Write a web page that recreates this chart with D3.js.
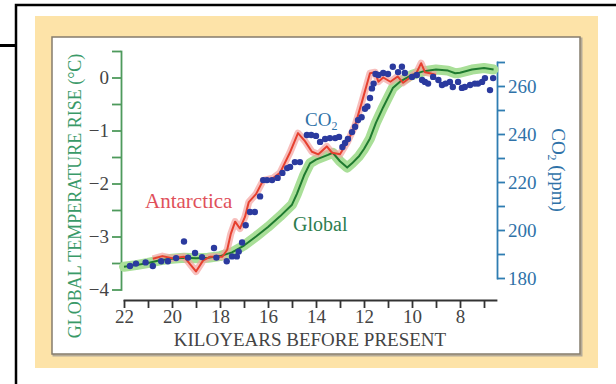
<!DOCTYPE html>
<html>
<head>
<meta charset="utf-8">
<script src="https://cdn.jsdelivr.net/npm/d3@7"></script>
<style>
  body { margin: 0; background: #fff; }
  svg { display: block; }
  text { font-family: "Liberation Serif", "DejaVu Serif", serif; }
</style>
</head>
<body>
<svg id="chart" width="616" height="384"></svg>
<script>
// global temperature reconstruction (kyr BP, deg C)
const globalKyr = [22.0, 21.5, 21.0, 20.5, 20.0, 19.5, 19.0, 18.5, 18.0, 17.5, 17.0, 16.5, 16.0, 15.5, 15.0, 14.8, 14.5, 14.25, 14.0, 13.5, 13.3, 13.0, 12.7, 12.5, 12.2, 12.0, 11.75, 11.5, 11.2, 10.8, 10.5, 10.0, 9.5, 9.0, 8.5, 8.2, 8.0, 7.5, 7.0, 6.6];
const globalTemp = [-3.57, -3.54, -3.50, -3.45, -3.42, -3.40, -3.41, -3.40, -3.37, -3.30, -3.17, -3.00, -2.82, -2.62, -2.40, -2.20, -1.85, -1.62, -1.55, -1.46, -1.42, -1.58, -1.70, -1.62, -1.48, -1.35, -1.15, -0.85, -0.56, -0.20, -0.08, 0.05, 0.12, 0.15, 0.13, 0.08, 0.09, 0.15, 0.18, 0.15];

// antarctic temperature (kyr BP, deg C)
const antKyr = [20.8, 20.4, 20.0, 19.5, 19.25, 19.0, 18.7, 18.4, 17.9, 17.7, 17.55, 17.37, 17.17, 16.96, 16.8, 16.5, 16.2, 15.8, 15.5, 15.1, 14.75, 14.46, 14.17, 13.9, 13.55, 13.33, 13.0, 12.67, 12.37, 12.08, 11.75, 11.54, 11.4, 11.2, 10.9, 10.6, 10.37, 10.08, 9.8, 9.62, 9.46, 9.25, 9.0];
const antTemp = [-3.42, -3.37, -3.41, -3.38, -3.52, -3.66, -3.45, -3.38, -3.38, -3.25, -2.95, -2.72, -2.85, -2.63, -2.35, -2.20, -1.94, -1.90, -1.80, -1.43, -1.05, -1.20, -1.40, -1.45, -1.30, -1.42, -1.45, -1.20, -0.90, -0.45, 0.08, 0.10, -0.08, 0.00, -0.08, 0.02, -0.10, 0.00, 0.10, 0.27, 0.10, 0.08, 0.05];

// CO2 samples (kyr BP, ppm)
const co2Kyr = [21.75, 21.5, 21.1, 20.8, 20.45, 20.17, 19.83, 19.5, 19.33, 19.04, 18.75, 18.25, 18.15, 17.72, 17.5, 17.3, 17.22, 17.08, 16.93, 16.75, 16.55, 16.33, 16.2, 16.04, 15.83, 15.6, 15.4, 15.2, 15.08, 14.88, 14.67, 14.38, 14.2, 14.0, 13.83, 13.62, 13.42, 13.2, 13.04, 12.9, 12.79, 12.67, 12.5, 12.37, 12.25, 12.1, 11.96, 11.86, 11.75, 11.67, 11.6, 11.52, 11.4, 11.2, 11.0, 10.8, 10.58, 10.42, 10.3, 10.0, 9.8, 9.58, 9.46, 9.33, 9.12, 8.9, 8.75, 8.6, 8.42, 8.3, 8.08, 7.92, 7.8, 7.58, 7.38, 7.25, 7.08, 6.96, 6.75, 6.62];
const co2Ppm = [185, 186, 186.5, 185, 187, 187, 188.3, 195.2, 188.5, 190.4, 188.7, 192.5, 188.5, 187, 189, 189, 191, 194.8, 202, 207.5, 207.5, 214, 220.8, 220.8, 220.8, 221.7, 223.8, 225.8, 226.3, 228.3, 228.3, 239.6, 239.6, 239.2, 236.7, 237.9, 238.3, 238.3, 238.8, 234.6, 236.3, 237.9, 240.8, 243, 245.8, 247, 250.5, 251.5, 255, 259, 261, 265, 264.6, 265.4, 265, 268, 265.8, 268, 265.4, 263.8, 264.6, 262.5, 261.7, 261, 263.8, 262.5, 260.4, 261, 261.7, 259.6, 261.7, 259.2, 259.6, 260.4, 261, 261, 261.7, 263.3, 258.3, 263.3];

const kyrTicks = [22, 21, 20, 19, 18, 17, 16, 15, 14, 13, 12, 11, 10, 9, 8, 7];
const kyrLabels = [22, 20, 18, 16, 14, 12, 10, 8];
const tempTicks = [0.5, 0, -0.5, -1, -1.5, -2, -2.5, -3, -3.5, -4];
const co2Ticks = [270, 260, 250, 240, 230, 220, 210, 200, 190, 180];

const svg = d3.select('#chart');

// frame
svg.append('rect').attr('x', 35).attr('y', 16).attr('width', 563).attr('height', 352).attr('fill', '#fde3a8');
svg.append('rect').attr('x', 53.5).attr('y', 38.5).attr('width', 528).attr('height', 317)
  .attr('fill', 'none').attr('stroke', '#b5ab98').attr('stroke-width', 2);
svg.append('rect').attr('x', 52).attr('y', 37).attr('width', 528).attr('height', 317)
  .attr('fill', '#fff').attr('stroke', '#857c6c').attr('stroke-width', 1.5);
svg.append('path').attr('d', 'M16,384V5H616').attr('fill', 'none').attr('stroke', '#000').attr('stroke-width', 2.5);
svg.append('path').attr('d', 'M0,45.5H16').attr('stroke', '#000').attr('stroke-width', 3);

const x = d3.scaleLinear().domain([22, 6.5]).range([124, 496]);
const yT = d3.scaleLinear().domain([-4, 0.5]).range([289.5, 51]);
const yC = d3.scaleLinear().domain([180, 270]).range([278, 62]);

// x axis
const xAxis = svg.append('g').attr('transform', 'translate(0,300)')
  .call(d3.axisBottom(x).tickValues(kyrTicks).tickSize(8).tickSizeOuter(0)
    .tickFormat(d => kyrLabels.includes(d) ? d : ''));
xAxis.selectAll('path, line').attr('stroke', '#333').attr('stroke-width', 1.8);
xAxis.selectAll('text').attr('font-size', 19).attr('fill', '#444').attr('y', 10);

// left axis
const lAxis = svg.append('g').attr('transform', 'translate(121,0)')
  .call(d3.axisLeft(yT).tickValues(tempTicks).tickSize(9).tickSizeOuter(0)
    .tickFormat(d => Number.isInteger(d) ? (d < 0 ? '\u2212' + (-d) : d) : ''));
lAxis.selectAll('path, line').attr('stroke', '#4e9a5c').attr('stroke-width', 1.8);
lAxis.selectAll('text').attr('font-size', 19).attr('fill', '#444');

// right axis
const rAxis = svg.append('g').attr('transform', 'translate(497,0)')
  .call(d3.axisRight(yC).tickValues(co2Ticks).tickSize(8).tickSizeOuter(0)
    .tickFormat(d => d % 20 === 0 ? d : ''));
rAxis.selectAll('path, line').attr('stroke', '#2f7db2').attr('stroke-width', 1.8);
rAxis.selectAll('text').attr('font-size', 19).attr('fill', '#2f72a8');
svg.selectAll('.domain').attr('stroke-linecap', 'square');

// data
const globalData = globalKyr.map((k, i) => [k, globalTemp[i]]);
const antData = antKyr.map((k, i) => [k, antTemp[i]]);
const co2Data = co2Kyr.map((k, i) => [k, co2Ppm[i]]);

const tLine = d3.line().x(d => x(d[0])).y(d => yT(d[1]));

svg.append('path').datum(globalData).attr('d', tLine)
  .attr('fill', 'none').attr('stroke', '#a9df98').attr('stroke-width', 10)
  .attr('stroke-linejoin', 'round').attr('stroke-linecap', 'round');
svg.append('path').datum(antData).attr('d', tLine)
  .attr('fill', 'none').attr('stroke', '#f4a3a0').attr('stroke-width', 7).attr('opacity', 0.7)
  .attr('stroke-linejoin', 'round');
svg.append('path').datum(globalData).attr('d', tLine)
  .attr('fill', 'none').attr('stroke', '#1f7a30').attr('stroke-width', 2)
  .attr('stroke-linejoin', 'round');
svg.append('path').datum(antData).attr('d', tLine)
  .attr('fill', 'none').attr('stroke', '#e6402f').attr('stroke-width', 2)
  .attr('stroke-linejoin', 'round');

svg.append('g').selectAll('circle').data(co2Data).join('circle')
  .attr('cx', d => x(d[0])).attr('cy', d => yC(d[1])).attr('r', 3.2)
  .attr('fill', '#2b3a9e');

// labels
svg.append('text').attr('transform', 'translate(81,196) rotate(-90)').attr('text-anchor', 'middle')
  .attr('font-size', 18).attr('fill', '#3a9a68').text('GLOBAL TEMPERATURE RISE (\u00B0C)');
const co2Title = svg.append('text').attr('transform', 'translate(552,170) rotate(90)')
  .attr('text-anchor', 'middle').attr('font-size', 19).attr('fill', '#2f72a8');
co2Title.append('tspan').text('CO');
co2Title.append('tspan').attr('font-size', 12).attr('dy', 4).text('2');
co2Title.append('tspan').attr('dy', -4).text(' (ppm)');

svg.append('text').attr('x', 310).attr('y', 346).attr('text-anchor', 'middle')
  .attr('font-size', 19).attr('fill', '#444').text('KILOYEARS BEFORE PRESENT');

svg.append('text').attr('x', 145).attr('y', 208).attr('font-size', 21).attr('fill', '#e0505a').text('Antarctica');
svg.append('text').attr('x', 293).attr('y', 231).attr('font-size', 20).attr('fill', '#2e7d4f').text('Global');
const co2Label = svg.append('text').attr('x', 305).attr('y', 126).attr('font-size', 19).attr('fill', '#2f72a8');
co2Label.append('tspan').text('CO');
co2Label.append('tspan').attr('font-size', 12).attr('dy', 4).text('2');
</script>
</body>
</html>
